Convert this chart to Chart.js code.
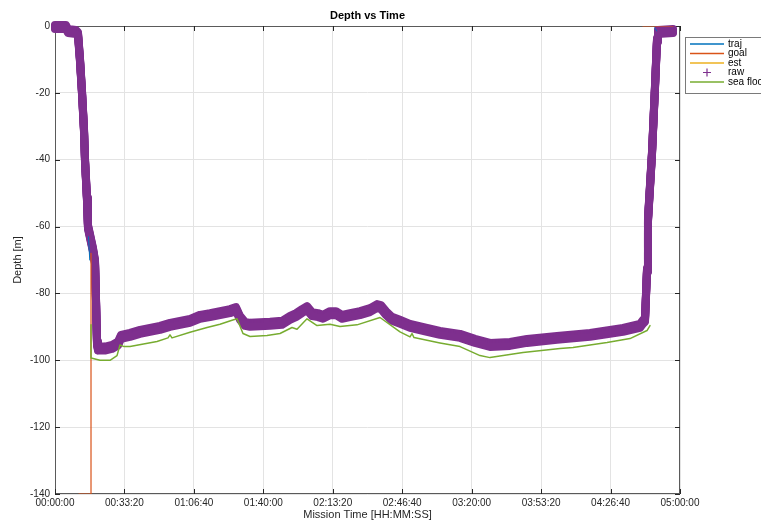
<!DOCTYPE html>
<html>
<head>
<meta charset="utf-8">
<title>Depth vs Time</title>
<script src="https://cdn.jsdelivr.net/npm/chart.js@4/dist/chart.umd.min.js"></script>
<style>
  html, body { margin: 0; padding: 0; background: #fff; }
  #grafico { display: block; }
</style>
</head>
<body>
<canvas id="grafico" width="761" height="522"></canvas>
<script>
// --- Data (time in seconds, depth in metres) ---
const rawTime = [0, 317, 374, 605, 662, 720, 778, 835, 864, 922, 950, 1094, 1152, 1181, 1210, 1238,
  1440, 1642, 1814, 1901, 2160, 2448, 2736, 3024, 3312, 3600, 3888, 4176, 4464, 4752, 5040, 5213,
  5328, 5472, 5616, 6192, 6538, 6768, 6941, 7114, 7258, 7402, 7574, 7718, 7920, 8093, 8266, 8496,
  8784, 9072, 9274, 9389, 9533, 9706, 9936, 10224, 10714, 11088, 11664, 12096, 12528, 13104, 13594,
  14458, 15408, 16358, 16848, 16934, 16992, 17050, 17078, 17194, 17280, 17338, 17366, 17798];
const rawDepth = [-0.3, -0.3, -1.5, -1.8, -2.4, -10.2, -20.0, -31.1, -40.1, -52.0, -60.1, -67.0, -70.6, -82.0, -95.0, -96.5,
  -96.5, -96.0, -95.0, -93.0, -92.4, -91.5, -90.9, -90.3, -89.4, -88.8, -88.2, -87.0, -86.5, -85.9, -85.3, -84.7,
  -87.3, -89.1, -89.4, -89.1, -88.8, -87.3, -86.5, -85.3, -84.4, -86.2, -86.5, -87.0, -85.9, -85.9, -87.0, -86.5,
  -85.9, -85.0, -83.8, -84.1, -85.9, -87.6, -88.5, -89.7, -90.9, -91.8, -92.7, -94.2, -95.4, -95.1, -94.2,
  -93.3, -92.4, -90.9, -89.7, -88.5, -87.9, -73.0, -58.0, -38.0, -18.2, -4.2, -1.8, -1.5];

const floorTime = [1037, 1037, 1296, 1584, 1786, 1872, 1987, 2160, 2938, 3254, 3312, 3370, 3888, 4378, 4752,
  5098, 5242, 5414, 5616, 6106, 6480, 6826, 6970, 7258, 7546, 7920, 8208, 8698, 9360, 9936, 10224,
  10282, 10339, 11088, 11664, 12240, 12528, 13478, 14544, 14918, 15898, 16560, 17050, 17136];
const floorDepth = [-89.4, -99.3, -100.0, -100.0, -98.6, -95.4, -95.9, -95.9, -94.4, -93.3, -92.4, -93.3, -91.6, -90.2, -89.2,
  -88.0, -87.6, -92.0, -92.9, -92.6, -92.0, -90.2, -90.7, -87.6, -89.6, -89.2, -89.9, -89.4, -87.2, -91.5, -93.0,
  -92.0, -93.2, -94.8, -95.9, -98.6, -99.2, -97.7, -96.5, -96.2, -94.7, -93.5, -91.1, -89.6];

// goal has gaps (null)
const goalTime = [690, 1037, 1037, 1040, 16934, 17798];
const goalDepth = [-140, -140, -68, null, 0, 0];

const trajTime = [965, 1000, 1010, 17270, 17330];
const trajDepth = [-63, -70, null, -0.5, -1.5];

const estTime = [];
const estDepth = [];

const xTickValues = [0, 2000, 4000, 6000, 8000, 10000, 12000, 14000, 16000, 18000];
const xTickLabels = ["00:00:00", "00:33:20", "01:06:40", "01:40:00", "02:13:20", "02:46:40",
  "03:20:00", "03:53:20", "04:26:40", "05:00:00"];

// Builds {x, y} points for a linear x axis
function puntos(ts, ds) {
  return ts.map((t, i) => ({ x: t, y: ds[i] }));
}

const fuente = "'Liberation Sans', Arial, sans-serif";
const ejeColor = "#262626";

// Box, inward ticks, thick "+" band for raw, title and legend (MATLAB look)
const estiloMatlab = {
  id: "estiloMatlab",
  beforeDatasetsDraw(chart) {
    const { ctx, chartArea: a } = chart;
    const xs = chart.scales.x, ys = chart.scales.y;
    ctx.save();
    // box
    ctx.strokeStyle = "#5a5a5a";
    ctx.lineWidth = 1;
    ctx.strokeRect(a.left + 0.5, a.top + 0.5, a.right - a.left - 1, a.bottom - a.top - 1);
    // inward ticks
    ctx.strokeStyle = ejeColor;
    ctx.beginPath();
    xTickValues.forEach(v => {
      const px = Math.round(xs.getPixelForValue(v)) + 0.5;
      ctx.moveTo(px, a.bottom); ctx.lineTo(px, a.bottom - 5);
      ctx.moveTo(px, a.top); ctx.lineTo(px, a.top + 5);
    });
    ys.ticks.forEach(t => {
      const py = Math.round(ys.getPixelForValue(t.value)) + 0.5;
      ctx.moveTo(a.left, py); ctx.lineTo(a.left + 5, py);
      ctx.moveTo(a.right, py); ctx.lineTo(a.right - 5, py);
    });
    ctx.stroke();
    ctx.restore();
  },
  beforeDatasetDraw(chart, args) {
    // raw markers: taller than wide, so stroke the line several times shifted up/down
    if (chart.data.datasets[args.index].label !== "raw") return;
    const { ctx, chartArea: a } = chart;
    ctx.save();
    ctx.beginPath();
    ctx.rect(a.left - 6, a.top - 8, a.right - a.left + 12, a.bottom - a.top + 16);
    ctx.clip();
    [-2, -1, 0, 1, 2].forEach(dy => {
      ctx.save();
      ctx.translate(0, dy);
      args.meta.dataset.draw(ctx, a);
      ctx.restore();
    });
    ctx.restore();
    return false;
  },
  afterDraw(chart) {
    const { ctx, chartArea: a } = chart;
    ctx.save();
    // title
    ctx.fillStyle = "#000";
    ctx.font = "bold 11px " + fuente;
    ctx.textAlign = "center";
    ctx.textBaseline = "middle";
    ctx.fillText("Depth vs Time", (a.left + a.right) / 2, 16);

    // legend
    const lx = 685, ly = 37;
    ctx.fillStyle = "#fff";
    ctx.fillRect(lx, ly, 100, 56);
    ctx.strokeStyle = "#7a7a7a";
    ctx.lineWidth = 1;
    ctx.strokeRect(lx + 0.5, ly + 0.5, 100, 56);
    ctx.font = "10px " + fuente;
    ctx.textAlign = "left";
    chart.data.datasets.forEach((d, i) => {
      const y = 44 + i * 9.5;
      ctx.strokeStyle = d.borderColor;
      ctx.beginPath();
      if (d.label === "raw") {
        ctx.lineWidth = 1.2;
        ctx.moveTo(703, y); ctx.lineTo(711, y);
        ctx.moveTo(707, y - 4); ctx.lineTo(707, y + 4);
      } else {
        ctx.lineWidth = 1.5;
        ctx.moveTo(690, y); ctx.lineTo(724, y);
      }
      ctx.stroke();
      ctx.fillStyle = "#000";
      ctx.fillText(d.label, 728, y);
    });
    ctx.restore();
  }
};

new Chart(document.getElementById("grafico"), {
  type: "line",
  data: {
    datasets: [
      { label: "traj", data: puntos(trajTime, trajDepth), borderColor: "#0072BD", borderWidth: 1, order: 2 },
      { label: "goal", data: puntos(goalTime, goalDepth), borderColor: "#D95319", borderWidth: 1.2, order: 1 },
      { label: "est", data: puntos(estTime, estDepth), borderColor: "#EDB120", borderWidth: 1, order: 3 },
      { label: "raw", data: puntos(rawTime, rawDepth), borderColor: "#7E2F8E", borderWidth: 8, order: 4 },
      { label: "sea floor", data: puntos(floorTime, floorDepth), borderColor: "#77AC30", borderWidth: 1.5, order: 0 }
    ]
  },
  options: {
    responsive: false,
    animation: false,
    devicePixelRatio: 1,
    spanGaps: false,
    elements: {
      point: { radius: 0, hoverRadius: 0 },
      line: { tension: 0, borderJoinStyle: "round", borderCapStyle: "round" }
    },
    layout: { padding: { left: 0, right: 81, top: 26, bottom: 0 } },
    plugins: {
      legend: { display: false },
      title: { display: false },
      tooltip: { enabled: false }
    },
    scales: {
      x: {
        type: "linear",
        min: 0,
        max: 18000,
        afterFit: s => { s.height = 28; },
        afterBuildTicks: s => { s.ticks = xTickValues.map(v => ({ value: v })); },
        ticks: {
          autoSkip: false,
          maxRotation: 0,
          padding: 3,
          color: ejeColor,
          font: { family: fuente, size: 10 },
          callback: v => xTickLabels[xTickValues.indexOf(v)]
        },
        grid: { color: "#e3e3e3", drawTicks: false },
        border: { display: false },
        title: {
          display: true,
          text: "Mission Time [HH:MM:SS]",
          color: ejeColor,
          padding: 0,
          font: { family: fuente, size: 11 }
        }
      },
      y: {
        min: -140,
        max: 0,
        afterFit: s => { s.width = 55; },
        ticks: {
          stepSize: 20,
          padding: 5,
          color: ejeColor,
          font: { family: fuente, size: 10 }
        },
        grid: { color: "#e3e3e3", drawTicks: false },
        border: { display: false },
        title: {
          display: true,
          text: "Depth [m]",
          color: ejeColor,
          padding: { top: 11, bottom: 0 },
          font: { family: fuente, size: 11 }
        }
      }
    }
  },
  plugins: [estiloMatlab]
});
</script>
</body>
</html>
